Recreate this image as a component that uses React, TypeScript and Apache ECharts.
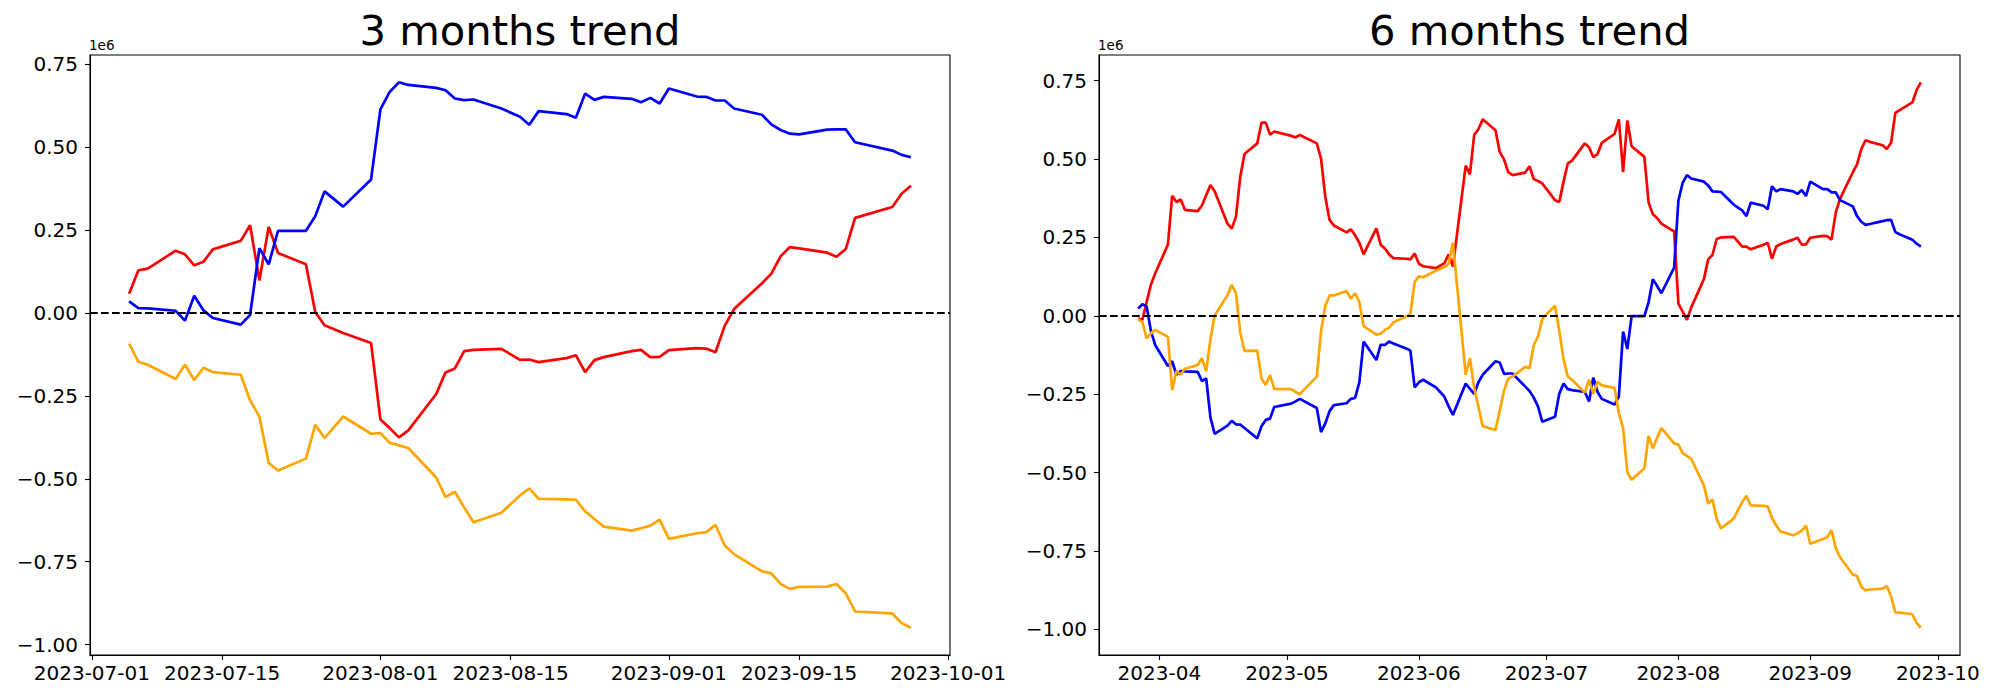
import React, { useEffect, useRef } from "react";
import * as echarts from "echarts";

// ---------- DATA (values in units of 1e6) ----------
const LEFT_TITLE = "3 months trend";
const RIGHT_TITLE = "6 months trend";
const OFFSET_TEXT = "1e6";

const LEFT_DATES = [
  "2023-07-05", "2023-07-06", "2023-07-07", "2023-07-10", "2023-07-11", "2023-07-12", "2023-07-13", "2023-07-14",
  "2023-07-17", "2023-07-18", "2023-07-19", "2023-07-20", "2023-07-21", "2023-07-24", "2023-07-25", "2023-07-26",
  "2023-07-28", "2023-07-31",
  "2023-08-01", "2023-08-02", "2023-08-03", "2023-08-04", "2023-08-07", "2023-08-08", "2023-08-09", "2023-08-10",
  "2023-08-11", "2023-08-14", "2023-08-16", "2023-08-17", "2023-08-18", "2023-08-21", "2023-08-22", "2023-08-23",
  "2023-08-24", "2023-08-25", "2023-08-28", "2023-08-29", "2023-08-30", "2023-08-31",
  "2023-09-01", "2023-09-04", "2023-09-05", "2023-09-06", "2023-09-07", "2023-09-08", "2023-09-11", "2023-09-12",
  "2023-09-13", "2023-09-14", "2023-09-15", "2023-09-18", "2023-09-19", "2023-09-20", "2023-09-21", "2023-09-25",
  "2023-09-26", "2023-09-27",
];
const LEFT_RED = [
  0.058, 0.129, 0.134, 0.188, 0.177, 0.144, 0.155, 0.192, 0.218, 0.265, 0.098, 0.260, 0.181, 0.147, 0.003, -0.037, -0.060, -0.090,
  -0.321, -0.347, -0.375, -0.354, -0.244, -0.179, -0.167, -0.115, -0.111, -0.108, -0.141, -0.140, -0.148, -0.136, -0.127, -0.178, -0.142, -0.133, -0.115, -0.111, -0.133, -0.132,
  -0.112, -0.106, -0.107, -0.118, -0.038, 0.012, 0.090, 0.119, 0.171, 0.199, 0.195, 0.182, 0.170, 0.193, 0.287, 0.320, 0.360, 0.384,
];
const LEFT_BLUE = [
  0.035, 0.015, 0.014, 0.007, -0.023, 0.052, 0.008, -0.015, -0.035, -0.006, 0.196, 0.147, 0.248, 0.248, 0.292, 0.367, 0.321, 0.403,
  0.614, 0.667, 0.696, 0.688, 0.679, 0.672, 0.647, 0.642, 0.644, 0.617, 0.592, 0.568, 0.609, 0.600, 0.589, 0.662, 0.643, 0.652, 0.646, 0.636, 0.649, 0.632,
  0.677, 0.653, 0.652, 0.641, 0.641, 0.617, 0.598, 0.569, 0.552, 0.541, 0.539, 0.553, 0.554, 0.554, 0.515, 0.490, 0.477, 0.470,
];
const LEFT_ORANGE = [
  -0.092, -0.147, -0.156, -0.199, -0.156, -0.202, -0.165, -0.178, -0.186, -0.263, -0.312, -0.452, -0.475, -0.439, -0.337, -0.377, -0.312, -0.364,
  -0.362, -0.391, -0.399, -0.407, -0.496, -0.555, -0.539, -0.586, -0.631, -0.602, -0.550, -0.529, -0.560, -0.562, -0.563, -0.598, -0.621, -0.644, -0.656, -0.649, -0.641, -0.623,
  -0.681, -0.664, -0.661, -0.639, -0.701, -0.727, -0.779, -0.785, -0.817, -0.832, -0.826, -0.825, -0.817, -0.845, -0.900, -0.906, -0.935, -0.949,
];

const RIGHT_DATES = [
  "2023-03-27", "2023-03-28", "2023-03-29", "2023-03-30", "2023-03-31",
  "2023-04-03", "2023-04-04", "2023-04-05", "2023-04-06", "2023-04-07", "2023-04-10", "2023-04-11", "2023-04-12", "2023-04-13", "2023-04-14",
  "2023-04-17", "2023-04-18", "2023-04-19", "2023-04-20", "2023-04-21", "2023-04-24", "2023-04-25", "2023-04-26", "2023-04-27", "2023-04-28",
  "2023-05-02", "2023-05-03", "2023-05-04", "2023-05-08", "2023-05-09", "2023-05-10", "2023-05-11", "2023-05-12", "2023-05-15", "2023-05-16",
  "2023-05-17", "2023-05-18", "2023-05-19", "2023-05-22", "2023-05-23", "2023-05-24", "2023-05-25", "2023-05-26", "2023-05-29", "2023-05-30", "2023-05-31",
  "2023-06-01", "2023-06-02", "2023-06-05", "2023-06-06", "2023-06-07", "2023-06-08", "2023-06-09", "2023-06-12", "2023-06-13", "2023-06-14", "2023-06-15",
  "2023-06-16", "2023-06-19", "2023-06-20", "2023-06-21", "2023-06-22", "2023-06-23", "2023-06-26", "2023-06-27", "2023-06-28", "2023-06-29", "2023-06-30",
  "2023-07-03", "2023-07-04", "2023-07-05", "2023-07-06", "2023-07-07", "2023-07-10", "2023-07-11", "2023-07-12", "2023-07-13", "2023-07-14", "2023-07-17",
  "2023-07-18", "2023-07-19", "2023-07-20", "2023-07-21", "2023-07-24", "2023-07-25", "2023-07-26", "2023-07-27", "2023-07-28", "2023-07-31",
  "2023-08-01", "2023-08-02", "2023-08-03", "2023-08-04", "2023-08-07", "2023-08-08", "2023-08-09", "2023-08-10", "2023-08-11", "2023-08-14", "2023-08-15",
  "2023-08-16", "2023-08-17", "2023-08-18", "2023-08-21", "2023-08-22", "2023-08-23", "2023-08-24", "2023-08-25", "2023-08-28", "2023-08-29", "2023-08-30", "2023-08-31",
  "2023-09-01", "2023-09-04", "2023-09-05", "2023-09-06", "2023-09-07", "2023-09-08", "2023-09-11", "2023-09-12", "2023-09-13", "2023-09-14", "2023-09-15",
  "2023-09-18", "2023-09-19", "2023-09-20", "2023-09-21", "2023-09-22", "2023-09-25", "2023-09-26", "2023-09-27",
];
const RIGHT_RED = [
  -0.009, -0.013, 0.044, 0.099, 0.135,
  0.227, 0.383, 0.363, 0.371, 0.338, 0.334, 0.352, 0.385, 0.417, 0.397, 0.294, 0.278, 0.316, 0.443, 0.516, 0.550, 0.616, 0.616, 0.578, 0.588,
  0.574, 0.569, 0.577, 0.550, 0.501, 0.379, 0.306, 0.288, 0.266, 0.276, 0.257, 0.233, 0.196, 0.279, 0.227, 0.215, 0.196, 0.184, 0.182, 0.180, 0.199,
  0.166, 0.158, 0.152, 0.160, 0.168, 0.196, 0.157, 0.479, 0.451, 0.577, 0.595, 0.627, 0.592, 0.523, 0.499, 0.458, 0.449, 0.457, 0.477, 0.436, 0.430, 0.422,
  0.369, 0.363, 0.428, 0.486, 0.495, 0.550, 0.538, 0.506, 0.516, 0.552, 0.580, 0.627, 0.458, 0.623, 0.541, 0.507, 0.361, 0.324, 0.312, 0.294, 0.269,
  0.040, 0.013, -0.013, 0.026, 0.117, 0.180, 0.194, 0.245, 0.250, 0.252, 0.237, 0.221, 0.221, 0.212, 0.227, 0.233, 0.182, 0.221, 0.229, 0.243, 0.249, 0.227, 0.228,
  0.249, 0.255, 0.254, 0.243, 0.330, 0.373, 0.458, 0.483, 0.532, 0.560, 0.555, 0.544, 0.532, 0.552, 0.647, 0.656, 0.681, 0.720, 0.745,
];
const RIGHT_BLUE = [
  0.023, 0.037, 0.030, -0.048, -0.093,
  -0.160, -0.145, -0.188, -0.176, -0.177, -0.179, -0.208, -0.200, -0.325, -0.377, -0.350, -0.335, -0.346, -0.347, -0.358, -0.391, -0.352, -0.332, -0.328, -0.291,
  -0.280, -0.273, -0.265, -0.294, -0.371, -0.343, -0.304, -0.285, -0.279, -0.265, -0.262, -0.212, -0.082, -0.141, -0.093, -0.093, -0.082, -0.088, -0.104, -0.111, -0.228,
  -0.212, -0.204, -0.228, -0.243, -0.258, -0.289, -0.316, -0.216, -0.233, -0.249, -0.212, -0.188, -0.145, -0.149, -0.185, -0.184, -0.184, -0.226, -0.240, -0.261, -0.289, -0.338,
  -0.322, -0.249, -0.216, -0.234, -0.237, -0.243, -0.273, -0.197, -0.243, -0.265, -0.283, -0.258, -0.050, -0.106, -0.001, -0.001, 0.044, 0.117, 0.095, 0.072, 0.154,
  0.367, 0.424, 0.449, 0.438, 0.428, 0.416, 0.397, 0.396, 0.395, 0.355, 0.345, 0.336, 0.318, 0.361, 0.351, 0.340, 0.413, 0.397, 0.404, 0.397, 0.389, 0.401, 0.382,
  0.428, 0.404, 0.404, 0.394, 0.394, 0.369, 0.349, 0.318, 0.300, 0.290, 0.293, 0.302, 0.305, 0.306, 0.267, 0.260, 0.243, 0.230, 0.221,
];
const RIGHT_ORANGE = [
  -0.011, -0.020, -0.072, -0.056, -0.045,
  -0.067, -0.237, -0.176, -0.188, -0.169, -0.157, -0.135, -0.177, -0.074, 0.001, 0.066, 0.099, 0.072, -0.054, -0.112, -0.111, -0.200, -0.221, -0.189, -0.233,
  -0.234, -0.243, -0.250, -0.194, -0.050, 0.032, 0.065, 0.065, 0.079, 0.055, 0.072, 0.044, -0.033, -0.060, -0.057, -0.045, -0.038, -0.021, -0.002, 0.005, 0.108,
  0.126, 0.123, 0.144, 0.150, 0.156, 0.166, 0.233, -0.188, -0.135, -0.230, -0.291, -0.352, -0.364, -0.303, -0.240, -0.200, -0.194, -0.163, -0.167, -0.094, -0.066, -0.009,
  0.032, -0.048, -0.139, -0.194, -0.204, -0.245, -0.204, -0.249, -0.210, -0.222, -0.230, -0.310, -0.358, -0.499, -0.523, -0.486, -0.383, -0.423, -0.389, -0.358, -0.407,
  -0.411, -0.438, -0.447, -0.456, -0.541, -0.599, -0.586, -0.647, -0.678, -0.647, -0.620, -0.594, -0.574, -0.605, -0.606, -0.608, -0.645, -0.669, -0.688, -0.700, -0.694, -0.685, -0.669,
  -0.727, -0.712, -0.706, -0.684, -0.742, -0.770, -0.825, -0.830, -0.864, -0.876, -0.873, -0.870, -0.862, -0.896, -0.946, -0.947, -0.952, -0.980, -0.995,
];

const LEFT_X_TICKS = ["2023-07-01", "2023-07-15", "2023-08-01", "2023-08-15", "2023-09-01", "2023-09-15", "2023-10-01"];
const RIGHT_X_TICKS = ["2023-04-01", "2023-05-01", "2023-06-01", "2023-07-01", "2023-08-01", "2023-09-01", "2023-10-01"];
const Y_TICKS = [-1.0, -0.75, -0.5, -0.25, 0.0, 0.25, 0.5, 0.75];
const ZERO_LINE = 0;

const RED = "#ff0000";
const BLUE = "#0000ff";
const ORANGE = "#ffa500";
const FONT = "DejaVu Sans";

// ---------- helpers ----------
const toTs = (s: string) => {
  const [y, m, d] = s.split("-").map(Number);
  return new Date(y, m - 1, d).getTime();
};
const pad2 = (n: number) => (n < 10 ? "0" + n : "" + n);
const fmtDay = (v: number) => {
  const d = new Date(Math.round(v));
  return `${d.getFullYear()}-${pad2(d.getMonth() + 1)}-${pad2(d.getDate())}`;
};
const fmtMonth = (v: number) => {
  const d = new Date(Math.round(v));
  return `${d.getFullYear()}-${pad2(d.getMonth() + 1)}`;
};
const fmtY = (v: number) => {
  const s = (Math.round(v * 100) / 100).toFixed(2);
  return s.replace("-", "\u2212");
};
const pairs = (dates: string[], vals: number[]) => dates.map((d, i) => [toTs(d), vals[i]]);
const xRange = (dates: string[]) => {
  const a = toTs(dates[0]);
  const b = toTs(dates[dates.length - 1]);
  const m = (b - a) * 0.05;
  return [a - m, b + m];
};
const yRange = (...arrs: number[][]) => {
  const all = arrs.flat();
  const lo = Math.min(...all);
  const hi = Math.max(...all);
  const m = (hi - lo) * 0.05;
  return [lo - m, hi + m];
};

const GRID_TOP = 55;
const GRID_H = 600;
const GRIDS = [
  { left: 90, width: 860 },
  { left: 1099, width: 861 },
];

export default function App() {
  const ref = useRef<HTMLDivElement>(null);

  useEffect(() => {
    document.body.style.margin = "0";
    if (!ref.current) return;
    const chart = echarts.init(ref.current, undefined, { renderer: "svg" });

    const [lx0, lx1] = xRange(LEFT_DATES);
    const [rx0, rx1] = xRange(RIGHT_DATES);
    const [ly0, ly1] = yRange(LEFT_RED, LEFT_BLUE, LEFT_ORANGE);
    const [ry0, ry1] = yRange(RIGHT_RED, RIGHT_BLUE, RIGHT_ORANGE);

    const axisLineStyle = { color: "#000", width: 1.1 };
    const labelStyle = { fontSize: 20, color: "#000", fontFamily: FONT };

    const mkX = (gi: number, min: number, max: number, ticks: string[], fmt: (v: number) => string) => {
      const tv = ticks.map(toTs);
      return {
        type: "value",
        gridIndex: gi,
        min,
        max,
        scale: true,
        axisLine: { show: true, onZero: false, lineStyle: axisLineStyle },
        axisTick: { show: true, length: 5, inside: false, lineStyle: axisLineStyle, customValues: tv },
        axisLabel: { show: true, customValues: tv, formatter: (v: number) => fmt(v), margin: 8, hideOverlap: false, ...labelStyle },
        splitLine: { show: false },
      };
    };
    const mkY = (gi: number, min: number, max: number) => ({
      type: "value",
      gridIndex: gi,
      min,
      max,
      axisLine: { show: true, onZero: false, lineStyle: axisLineStyle },
      axisTick: { show: true, length: 5, inside: false, lineStyle: axisLineStyle, customValues: Y_TICKS },
      axisLabel: { show: true, customValues: Y_TICKS, formatter: (v: number) => fmtY(v), margin: 12, ...labelStyle },
      splitLine: { show: false },
    });

    const mkSeries = (gi: number, color: string, data: number[][], z: number) => ({
      type: "line",
      xAxisIndex: gi,
      yAxisIndex: gi,
      data,
      showSymbol: false,
      symbol: "none",
      lineStyle: { color, width: 2.7 },
      itemStyle: { color },
      z,
      silent: true,
    });

    const zeroLine = {
      silent: true,
      symbol: ["none", "none"],
      label: { show: false },
      lineStyle: { color: "#000", type: [7.7, 3.3], width: 2.1 },
      data: [{ yAxis: ZERO_LINE }],
      animation: false,
    };

    const leftSeries = [
      mkSeries(0, RED, pairs(LEFT_DATES, LEFT_RED), 2),
      mkSeries(0, BLUE, pairs(LEFT_DATES, LEFT_BLUE), 3),
      { ...mkSeries(0, ORANGE, pairs(LEFT_DATES, LEFT_ORANGE), 4), markLine: zeroLine },
    ];
    const rightSeries = [
      mkSeries(1, RED, pairs(RIGHT_DATES, RIGHT_RED), 2),
      mkSeries(1, BLUE, pairs(RIGHT_DATES, RIGHT_BLUE), 3),
      { ...mkSeries(1, ORANGE, pairs(RIGHT_DATES, RIGHT_ORANGE), 4), markLine: zeroLine },
    ];

    const titleStyle = { fontSize: 41.7, fontWeight: "normal", color: "#000", fontFamily: FONT };

    chart.setOption({
      animation: false,
      backgroundColor: "#fff",
      title: [
        { text: LEFT_TITLE, left: GRIDS[0].left + GRIDS[0].width / 2, top: 9, textAlign: "center", padding: 0, textStyle: titleStyle },
        { text: RIGHT_TITLE, left: GRIDS[1].left + GRIDS[1].width / 2, top: 9, textAlign: "center", padding: 0, textStyle: titleStyle },
      ],
      grid: GRIDS.map((g) => ({
        left: g.left,
        top: GRID_TOP,
        width: g.width,
        height: GRID_H,
        show: true,
        borderColor: "#000",
        borderWidth: 1.1,
        backgroundColor: "#fff",
        containLabel: false,
      })),
      xAxis: [mkX(0, lx0, lx1, LEFT_X_TICKS, fmtDay), mkX(1, rx0, rx1, RIGHT_X_TICKS, fmtMonth)],
      yAxis: [mkY(0, ly0, ly1), mkY(1, ry0, ry1)],
      graphic: GRIDS.map((g) => ({
        type: "text",
        x: g.left - 1,
        y: 38,
        silent: true,
        style: {
          text: OFFSET_TEXT,
          fill: "#000",
          font: `13.5px "${FONT}"`,
          textAlign: "left",
          textVerticalAlign: "top",
        },
      })),
      series: [...leftSeries, ...rightSeries],
    });

    return () => chart.dispose();
  }, []);

  return <div ref={ref} style={{ width: 2000, height: 700 }} />;
}
